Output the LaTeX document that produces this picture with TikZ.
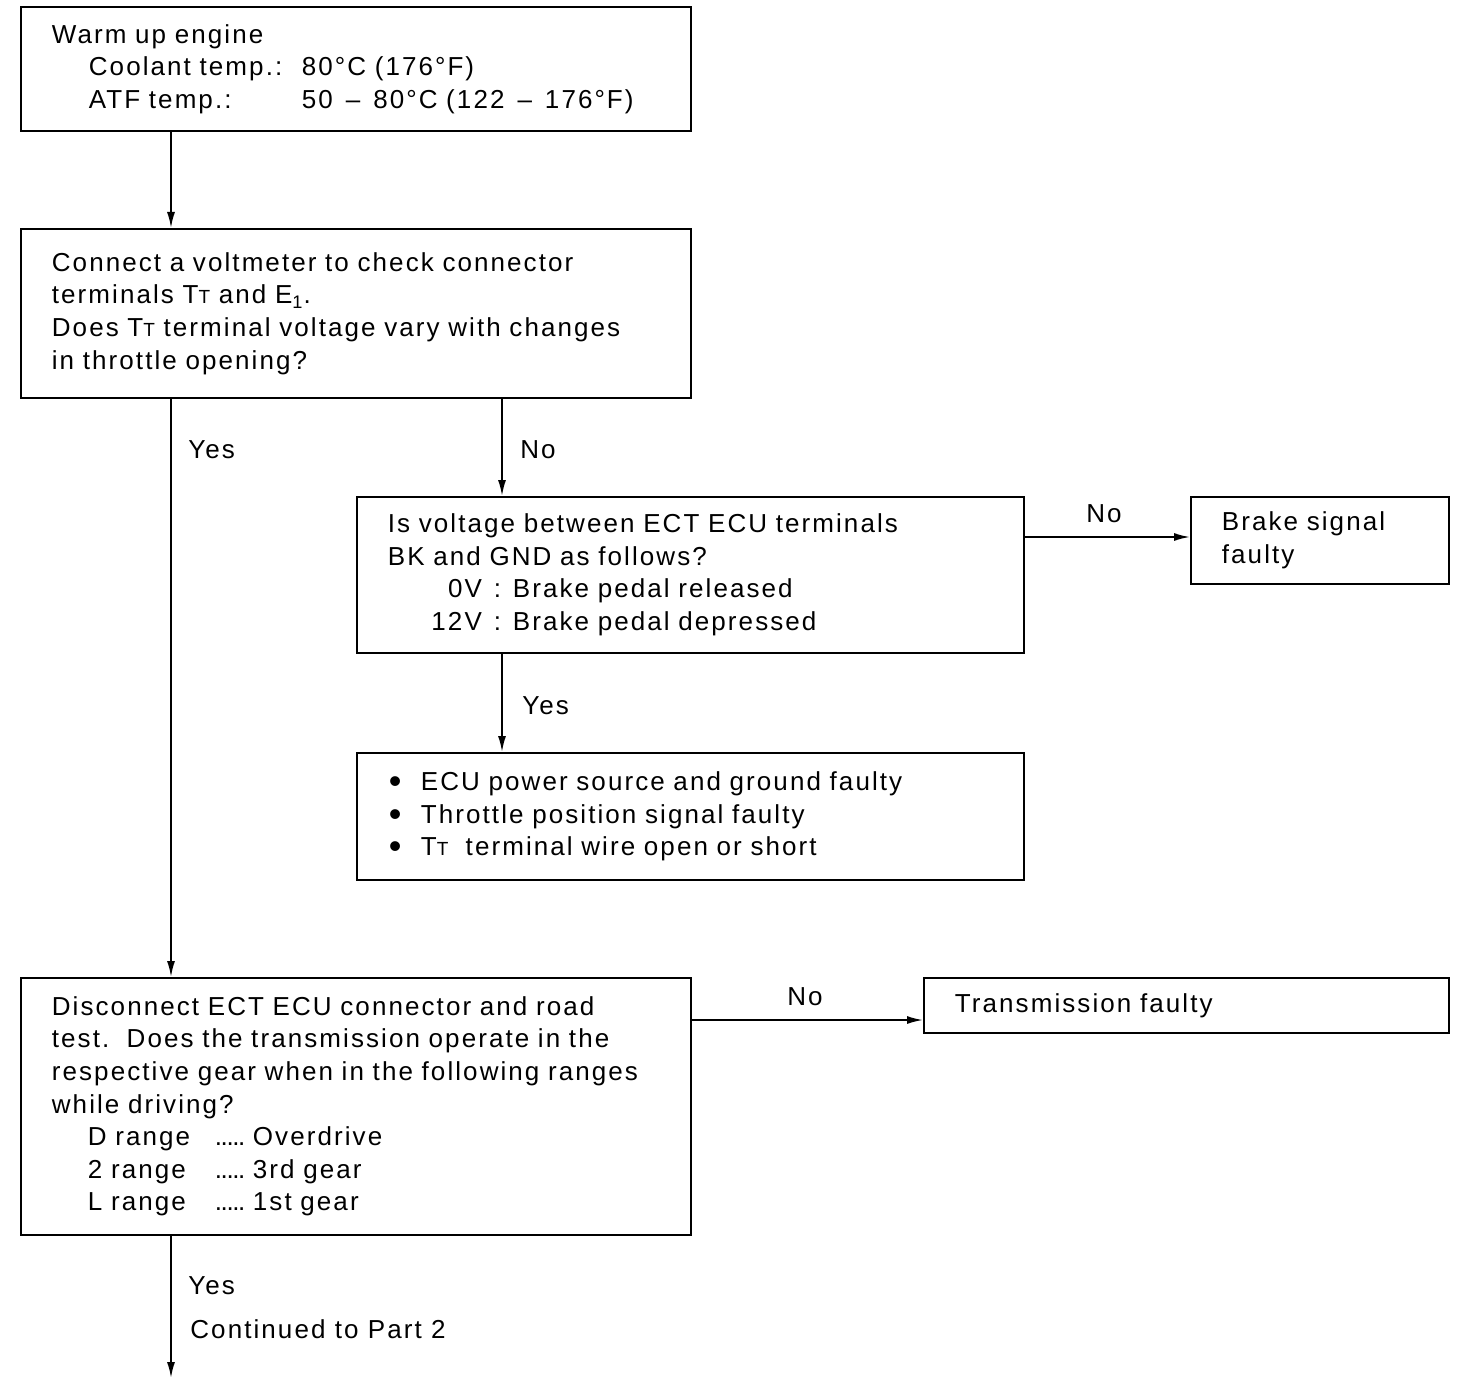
\documentclass[tikz,border=0pt]{standalone}
\usepackage{fontspec}
\setmainfont{Liberation Sans}[LetterSpace=8]
\usetikzlibrary{arrows.meta}
\newcommand{\Ttsub}{T{\fontsize{9.5}{9}\selectfont T}}
\newcommand{\dotsfill}{\makebox[19pt][l]{.\kern-0.7pt.\kern-0.7pt.\kern-0.7pt.\kern-0.7pt.}}
\newcommand{\bigbul}{\makebox[16.5pt][l]{\hspace{0.5pt}\raisebox{-1.6pt}{\fontsize{18}{16}\selectfont\textbullet}}}
\newcommand{\degr}{°\kern1pt}
\begin{document}
\begin{tikzpicture}[x=0.5pt,y=-0.5pt,
  box/.style={draw, line width=0.9pt, anchor=north west, inner xsep=15.5pt, inner ysep=0pt,
    align=left, font=\fontsize{13}{16.3}\selectfont},
  arr/.style={line width=0.9pt, -{Latex[length=8pt,width=4pt]}},
  lbl/.style={anchor=base west, inner sep=0pt, font=\fontsize{13}{15}\selectfont},
  lblc/.style={anchor=base, inner sep=0pt, font=\fontsize{13}{15}\selectfont}]
\useasboundingbox (0,0) rectangle (1472,1396);

\node[box, minimum width=335pt, minimum height=62pt, text width=304pt] (b1) at (20,6) {Warm up engine\\
\hspace*{18.5pt}\makebox[106.5pt][l]{Coolant temp.:}80\degr C (176\degr F)\\
\hspace*{18.5pt}\makebox[106.5pt][l]{ATF temp.:}50 \,--\, 80\degr C (122 \,--\, 176\degr F)};

\node[box, minimum width=335pt, minimum height=84.5pt, text width=304pt] (b2) at (20,228) {Connect a voltmeter to check connector\\
terminals \Ttsub\ and E\textsubscript{1}.\\
Does \Ttsub\ terminal voltage vary with changes\\
in throttle opening?};

\node[box, minimum width=333.5pt, minimum height=78pt, text width=302.5pt] (b3) at (356,496) {Is voltage between ECT ECU terminals\\
BK and GND as follows?\\
\makebox[47pt][r]{0V}\makebox[15.5pt][l]{\hspace{6pt}:}Brake pedal released\\
\makebox[47pt][r]{12V}\makebox[15.5pt][l]{\hspace{6pt}:}Brake pedal depressed};

\node[box, minimum width=129pt, minimum height=43.5pt, text width=98pt] (b4) at (1190,496) {Brake signal\\faulty};

\node[box, minimum width=333.5pt, minimum height=63.5pt, text width=302.5pt] (b5) at (356,752) {\bigbul ECU power source and ground faulty\\
\bigbul Throttle position signal faulty\\
\bigbul\Ttsub\ \ terminal wire open or short};

\node[box, minimum width=335pt, minimum height=128.5pt, text width=304pt] (b6) at (20,977) {Disconnect ECT ECU connector and road\\
test.\ \ Does the transmission operate in the\\
respective gear when in the following ranges\\
while driving?\\
\hspace*{18pt}\makebox[63.5pt][l]{D range}\dotsfill Overdrive\\
\hspace*{18pt}\makebox[63.5pt][l]{2 range}\dotsfill 3rd gear\\
\hspace*{18pt}\makebox[63.5pt][l]{L range}\dotsfill 1st gear};

\node[box, minimum width=262.5pt, minimum height=27.5pt, text width=231.5pt] (b7) at (923,977) {Transmission faulty};

\coordinate (cL) at (171,0);
\coordinate (cM) at (502,0);
\coordinate (a4) at (1190,537);
\coordinate (a7) at (923,1020);
\coordinate (endp) at (171,1378);

\draw[arr] (b1.south -| cL) -- (b2.north -| cL);
\draw[arr] (b2.south -| cL) -- (b6.north -| cL);
\draw[arr] (b2.south -| cM) -- (b3.north -| cM);
\draw[arr] (b3.east |- a4) -- (a4);
\draw[arr] (b3.south -| cM) -- (b5.north -| cM);
\draw[arr] (b6.east |- a7) -- (a7);
\draw[arr] (b6.south -| cL) -- (endp);

\node[lbl] (y1) at (188,458) {Yes};
\node[lbl] (n1) at (520,458) {No};
\node[lblc] (n2) at (1104,522) {No};
\node[lbl] (y2) at (522,714) {Yes};
\node[lblc] (n3) at (805,1005) {No};
\node[lbl] (y3) at (188,1294) {Yes};
\node[lbl] (cont) at (190,1338) {Continued to Part 2};
\end{tikzpicture}
\end{document}
